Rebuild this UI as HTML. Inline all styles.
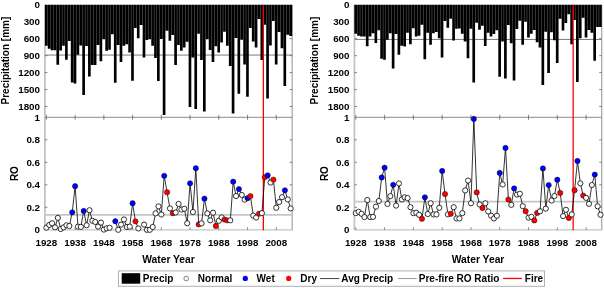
<!DOCTYPE html>
<html><head><meta charset="utf-8"><title>Precipitation and RO</title>
<style>
html,body{margin:0;padding:0;background:#fff;}
body{width:604px;height:288px;overflow:hidden;font-family:"Liberation Sans",sans-serif;}
svg{display:block;will-change:transform;}
</style></head>
<body>
<svg width="604" height="288" viewBox="0 0 604 288">
<rect width="604" height="288" fill="#fff"/>
<line x1="44.9" y1="55.05" x2="292.15" y2="55.05" stroke="#7a7a7a" stroke-width="1"/>
<line x1="44.9" y1="4.7" x2="44.9" y2="230.2" stroke="#c4c4c4" stroke-width="1.8"/>
<line x1="292.15" y1="4.7" x2="292.15" y2="230.2" stroke="#9a9a9a" stroke-width="1.1"/>
<line x1="44.9" y1="117.3" x2="292.15" y2="117.3" stroke="#8a8a8a" stroke-width="1"/>
<line x1="44.9" y1="229.8" x2="292.15" y2="229.8" stroke="#c4c4c4" stroke-width="1.2"/>
<path d="M46.37 114.8V119.8M46.37 229.8V227.3M75.11 114.8V119.8M75.11 229.8V227.3M103.85 114.8V119.8M103.85 229.8V227.3M132.59 114.8V119.8M132.59 229.8V227.3M161.33 114.8V119.8M161.33 229.8V227.3M190.07 114.8V119.8M190.07 229.8V227.3M218.81 114.8V119.8M218.81 229.8V227.3M247.55 114.8V119.8M247.55 229.8V227.3M276.29 114.8V119.8M276.29 229.8V227.3M44.9 21.75h2.5M292.15 21.75h-2.5M44.9 38.7h2.5M292.15 38.7h-2.5M44.9 55.65h2.5M292.15 55.65h-2.5M44.9 72.6h2.5M292.15 72.6h-2.5M44.9 89.55h2.5M292.15 89.55h-2.5M44.9 106.5h2.5M292.15 106.5h-2.5M44.9 207.3h2.5M292.15 207.3h-2.5M44.9 184.8h2.5M292.15 184.8h-2.5M44.9 162.3h2.5M292.15 162.3h-2.5M44.9 139.8h2.5M292.15 139.8h-2.5" stroke="#666" stroke-width="0.8" fill="none"/>
<path d="M44.93 4.7h2.67V45.8H44.93zM47.8 4.7h2.67V48.7H47.8zM50.68 4.7h2.67V50.3H50.68zM53.55 4.7h2.67V50.3H53.55zM56.43 4.7h2.67V64.7H56.43zM59.3 4.7h2.67V50.5H59.3zM62.17 4.7h2.67V45.8H62.17zM65.05 4.7h2.67V59.7H65.05zM67.92 4.7h2.67V41H67.92zM70.8 4.7h2.67V82.4H70.8zM73.67 4.7h2.67V83.6H73.67zM76.54 4.7h2.67V54.8H76.54zM79.42 4.7h2.67V45.4H79.42zM82.29 4.7h2.67V94.9H82.29zM85.17 4.7h2.67V46H85.17zM88.04 4.7h2.67V76.4H88.04zM90.91 4.7h2.67V64.9H90.91zM93.79 4.7h2.67V64.9H93.79zM96.66 4.7h2.67V45H96.66zM99.54 4.7h2.67V61.2H99.54zM102.41 4.7h2.67V39.2H102.41zM105.28 4.7h2.67V50.8H105.28zM108.16 4.7h2.67V49.7H108.16zM111.03 4.7h2.67V34.2H111.03zM113.91 4.7h2.67V82.7H113.91zM116.78 4.7h2.67V45H116.78zM119.65 4.7h2.67V62.1H119.65zM122.53 4.7h2.67V45.8H122.53zM125.4 4.7h2.67V44.2H125.4zM128.28 4.7h2.67V52.5H128.28zM131.15 4.7h2.67V80.7H131.15zM134.02 4.7h2.67V28H134.02zM136.9 4.7h2.67V38.3H136.9zM139.77 4.7h2.67V25H139.77zM142.65 4.7h2.67V57.5H142.65zM145.52 4.7h2.67V40H145.52zM148.39 4.7h2.67V39.3H148.39zM151.27 4.7h2.67V45.8H151.27zM154.14 4.7h2.67V58H154.14zM157.02 4.7h2.67V81.1H157.02zM159.89 4.7h2.67V39H159.89zM162.76 4.7h2.67V114.9H162.76zM165.64 4.7h2.67V30.7H165.64zM168.51 4.7h2.67V40.7H168.51zM171.39 4.7h2.67V35H171.39zM174.26 4.7h2.67V64.9H174.26zM177.13 4.7h2.67V45H177.13zM180.01 4.7h2.67V50.8H180.01zM182.88 4.7h2.67V47.5H182.88zM185.76 4.7h2.67V41.7H185.76zM188.63 4.7h2.67V107H188.63zM191.5 4.7h2.67V57.5H191.5zM194.38 4.7h2.67V108.9H194.38zM197.25 4.7h2.67V33.7H197.25zM200.13 4.7h2.67V60H200.13zM203 4.7h2.67V111.6H203zM205.87 4.7h2.67V39.2H205.87zM208.75 4.7h2.67V50H208.75zM211.62 4.7h2.67V62.1H211.62zM214.5 4.7h2.67V46.3H214.5zM217.37 4.7h2.67V52.5H217.37zM220.24 4.7h2.67V42.5H220.24zM223.12 4.7h2.67V31.7H223.12zM225.99 4.7h2.67V45.8H225.99zM228.87 4.7h2.67V66.1H228.87zM231.74 4.7h2.67V113.6H231.74zM234.61 4.7h2.67V38H234.61zM237.49 4.7h2.67V93.7H237.49zM240.36 4.7h2.67V39.7H240.36zM243.24 4.7h2.67V64.6H243.24zM246.11 4.7h2.67V96.7H246.11zM248.98 4.7h2.67V27.9H248.98zM251.86 4.7h2.67V41.4H251.86zM254.73 4.7h2.67V47.5H254.73zM257.61 4.7h2.67V19H257.61zM260.48 4.7h2.67V60H260.48zM263.35 4.7h2.67V24.8H263.35zM266.23 4.7h2.67V98.4H266.23zM269.1 4.7h2.67V45.5H269.1zM271.98 4.7h2.67V20.9H271.98zM274.85 4.7h2.67V64.6H274.85zM277.72 4.7h2.67V32H277.72zM280.6 4.7h2.67V48.3H280.6zM283.47 4.7h2.67V85.9H283.47zM286.35 4.7h2.67V34.7H286.35zM289.22 4.7h2.93V36H289.22z" fill="#000"/>
<line x1="44.9" y1="214.8" x2="292.15" y2="214.8" stroke="#c6c6c6" stroke-width="1.8"/>
<line x1="263.35" y1="4.7" x2="263.35" y2="230.2" stroke="#ff0000" stroke-width="1.3"/>
<path d="M46.37 227.66 L49.24 224.96 L52.12 223.28 L54.99 227.33 L57.86 217.88 L60.74 229.01 L63.61 227.33 L66.48 225.3 L69.36 225.98 L72.23 212.36 L75.11 186.15 L77.98 226.65 L80.86 226.88 L83.73 211.01 L86.6 225.3 L89.48 210.23 L92.35 220.8 L95.22 221.93 L98.1 226.65 L100.97 222.6 L103.85 229.58 L106.72 228.34 L109.59 227.78 M115.34 221.25 L118.22 229.8 L121.09 224.62 L123.97 219.45 L126.84 226.99 L129.71 226.65 L132.59 203.25 L135.46 221.36 L138.34 228.45 M144.08 224.62 L146.96 229.8 L149.83 229.8 L152.71 226.99 L155.58 213.38 L158.45 206.4 L161.33 214.5 L164.2 175.8 L167.08 192.22 L169.95 208.43 L172.82 213.26 L175.7 212.48 L178.57 203.93 L181.45 209.55 L184.32 208.76 L187.19 223.28 L190.07 183.34 L192.94 212.03 L195.82 168.26 L198.69 224.4 L201.56 223.39 L204.44 198.64 L207.31 213.38 L210.19 220.35 L213.06 212.7 L215.93 225.98 L218.81 220.8 L221.68 217.43 L224.56 219.56 L227.43 220.35 L230.3 220.35 L233.18 181.65 L236.05 196.05 L238.93 189.08 L241.8 194.93 L244.67 199.65 L247.55 198.19 L250.42 196.05 L253.3 215.62 L256.17 217.54 L259.04 213.71 L261.92 213.15 L264.79 177.26 L267.67 175.35 L270.54 182.55 L273.41 179.62 L276.29 207.75 L279.16 202.01 L282.04 197.18 L284.91 190.31 L287.78 199.43 L290.66 208.43" stroke="#000" stroke-width="0.8" fill="none"/>
<circle cx="46.37" cy="227.66" r="2.6" fill="#fff" stroke="#000" stroke-width="0.8"/>
<circle cx="49.24" cy="224.96" r="2.6" fill="#fff" stroke="#000" stroke-width="0.8"/>
<circle cx="52.12" cy="223.28" r="2.6" fill="#fff" stroke="#000" stroke-width="0.8"/>
<circle cx="54.99" cy="227.33" r="2.6" fill="#fff" stroke="#000" stroke-width="0.8"/>
<circle cx="57.86" cy="217.88" r="2.6" fill="#fff" stroke="#000" stroke-width="0.8"/>
<circle cx="60.74" cy="229.01" r="2.6" fill="#fff" stroke="#000" stroke-width="0.8"/>
<circle cx="63.61" cy="227.33" r="2.6" fill="#fff" stroke="#000" stroke-width="0.8"/>
<circle cx="66.48" cy="225.3" r="2.6" fill="#fff" stroke="#000" stroke-width="0.8"/>
<circle cx="69.36" cy="225.98" r="2.6" fill="#fff" stroke="#000" stroke-width="0.8"/>
<circle cx="72.23" cy="212.36" r="2.65" fill="#0000ff" stroke="#000" stroke-width="0.45"/>
<circle cx="75.11" cy="186.15" r="2.65" fill="#0000ff" stroke="#000" stroke-width="0.45"/>
<circle cx="77.98" cy="226.65" r="2.6" fill="#fff" stroke="#000" stroke-width="0.8"/>
<circle cx="80.86" cy="226.88" r="2.6" fill="#fff" stroke="#000" stroke-width="0.8"/>
<circle cx="83.73" cy="211.01" r="2.65" fill="#0000ff" stroke="#000" stroke-width="0.45"/>
<circle cx="86.6" cy="225.3" r="2.6" fill="#fff" stroke="#000" stroke-width="0.8"/>
<circle cx="89.48" cy="210.23" r="2.6" fill="#fff" stroke="#000" stroke-width="0.8"/>
<circle cx="92.35" cy="220.8" r="2.6" fill="#fff" stroke="#000" stroke-width="0.8"/>
<circle cx="95.22" cy="221.93" r="2.6" fill="#fff" stroke="#000" stroke-width="0.8"/>
<circle cx="98.1" cy="226.65" r="2.6" fill="#fff" stroke="#000" stroke-width="0.8"/>
<circle cx="100.97" cy="222.6" r="2.6" fill="#fff" stroke="#000" stroke-width="0.8"/>
<circle cx="103.85" cy="229.58" r="2.6" fill="#fff" stroke="#000" stroke-width="0.8"/>
<circle cx="106.72" cy="228.34" r="2.6" fill="#fff" stroke="#000" stroke-width="0.8"/>
<circle cx="109.59" cy="227.78" r="2.6" fill="#fff" stroke="#000" stroke-width="0.8"/>
<circle cx="115.34" cy="221.25" r="2.65" fill="#0000ff" stroke="#000" stroke-width="0.45"/>
<circle cx="118.22" cy="229.8" r="2.6" fill="#fff" stroke="#000" stroke-width="0.8"/>
<circle cx="121.09" cy="224.62" r="2.6" fill="#fff" stroke="#000" stroke-width="0.8"/>
<circle cx="123.97" cy="219.45" r="2.6" fill="#fff" stroke="#000" stroke-width="0.8"/>
<circle cx="126.84" cy="226.99" r="2.6" fill="#fff" stroke="#000" stroke-width="0.8"/>
<circle cx="129.71" cy="226.65" r="2.6" fill="#fff" stroke="#000" stroke-width="0.8"/>
<circle cx="132.59" cy="203.25" r="2.65" fill="#0000ff" stroke="#000" stroke-width="0.45"/>
<circle cx="135.46" cy="221.36" r="2.65" fill="#ff0000" stroke="#000" stroke-width="0.45"/>
<circle cx="138.34" cy="228.45" r="2.6" fill="#fff" stroke="#000" stroke-width="0.8"/>
<circle cx="144.08" cy="224.62" r="2.6" fill="#fff" stroke="#000" stroke-width="0.8"/>
<circle cx="146.96" cy="229.8" r="2.6" fill="#fff" stroke="#000" stroke-width="0.8"/>
<circle cx="149.83" cy="229.8" r="2.6" fill="#fff" stroke="#000" stroke-width="0.8"/>
<circle cx="152.71" cy="226.99" r="2.6" fill="#fff" stroke="#000" stroke-width="0.8"/>
<circle cx="155.58" cy="213.38" r="2.6" fill="#fff" stroke="#000" stroke-width="0.8"/>
<circle cx="158.45" cy="206.4" r="2.6" fill="#fff" stroke="#000" stroke-width="0.8"/>
<circle cx="161.33" cy="214.5" r="2.6" fill="#fff" stroke="#000" stroke-width="0.8"/>
<circle cx="164.2" cy="175.8" r="2.65" fill="#0000ff" stroke="#000" stroke-width="0.45"/>
<circle cx="167.08" cy="192.22" r="2.65" fill="#ff0000" stroke="#000" stroke-width="0.45"/>
<circle cx="169.95" cy="208.43" r="2.6" fill="#fff" stroke="#000" stroke-width="0.8"/>
<circle cx="172.82" cy="213.26" r="2.65" fill="#ff0000" stroke="#000" stroke-width="0.45"/>
<circle cx="175.7" cy="212.48" r="2.6" fill="#fff" stroke="#000" stroke-width="0.8"/>
<circle cx="178.57" cy="203.93" r="2.6" fill="#fff" stroke="#000" stroke-width="0.8"/>
<circle cx="181.45" cy="209.55" r="2.6" fill="#fff" stroke="#000" stroke-width="0.8"/>
<circle cx="184.32" cy="208.76" r="2.6" fill="#fff" stroke="#000" stroke-width="0.8"/>
<circle cx="187.19" cy="223.28" r="2.6" fill="#fff" stroke="#000" stroke-width="0.8"/>
<circle cx="190.07" cy="183.34" r="2.65" fill="#0000ff" stroke="#000" stroke-width="0.45"/>
<circle cx="192.94" cy="212.03" r="2.6" fill="#fff" stroke="#000" stroke-width="0.8"/>
<circle cx="195.82" cy="168.26" r="2.65" fill="#0000ff" stroke="#000" stroke-width="0.45"/>
<circle cx="198.69" cy="224.4" r="2.65" fill="#ff0000" stroke="#000" stroke-width="0.45"/>
<circle cx="201.56" cy="223.39" r="2.6" fill="#fff" stroke="#000" stroke-width="0.8"/>
<circle cx="204.44" cy="198.64" r="2.65" fill="#0000ff" stroke="#000" stroke-width="0.45"/>
<circle cx="207.31" cy="213.38" r="2.6" fill="#fff" stroke="#000" stroke-width="0.8"/>
<circle cx="210.19" cy="220.35" r="2.6" fill="#fff" stroke="#000" stroke-width="0.8"/>
<circle cx="213.06" cy="212.7" r="2.6" fill="#fff" stroke="#000" stroke-width="0.8"/>
<circle cx="215.93" cy="225.98" r="2.65" fill="#ff0000" stroke="#000" stroke-width="0.45"/>
<circle cx="218.81" cy="220.8" r="2.6" fill="#fff" stroke="#000" stroke-width="0.8"/>
<circle cx="221.68" cy="217.43" r="2.6" fill="#fff" stroke="#000" stroke-width="0.8"/>
<circle cx="224.56" cy="219.56" r="2.65" fill="#ff0000" stroke="#000" stroke-width="0.45"/>
<circle cx="227.43" cy="220.35" r="2.65" fill="#ff0000" stroke="#000" stroke-width="0.45"/>
<circle cx="230.3" cy="220.35" r="2.6" fill="#fff" stroke="#000" stroke-width="0.8"/>
<circle cx="233.18" cy="181.65" r="2.65" fill="#0000ff" stroke="#000" stroke-width="0.45"/>
<circle cx="236.05" cy="196.05" r="2.6" fill="#fff" stroke="#000" stroke-width="0.8"/>
<circle cx="238.93" cy="189.08" r="2.65" fill="#0000ff" stroke="#000" stroke-width="0.45"/>
<circle cx="241.8" cy="194.93" r="2.6" fill="#fff" stroke="#000" stroke-width="0.8"/>
<circle cx="244.67" cy="199.65" r="2.6" fill="#fff" stroke="#000" stroke-width="0.8"/>
<circle cx="247.55" cy="198.19" r="2.65" fill="#0000ff" stroke="#000" stroke-width="0.45"/>
<circle cx="250.42" cy="196.05" r="2.65" fill="#ff0000" stroke="#000" stroke-width="0.45"/>
<circle cx="253.3" cy="215.62" r="2.6" fill="#fff" stroke="#000" stroke-width="0.8"/>
<circle cx="256.17" cy="217.54" r="2.6" fill="#fff" stroke="#000" stroke-width="0.8"/>
<circle cx="259.04" cy="213.71" r="2.65" fill="#ff0000" stroke="#000" stroke-width="0.45"/>
<circle cx="261.92" cy="213.15" r="2.6" fill="#fff" stroke="#000" stroke-width="0.8"/>
<circle cx="264.79" cy="177.26" r="2.65" fill="#ff0000" stroke="#000" stroke-width="0.45"/>
<circle cx="267.67" cy="175.35" r="2.65" fill="#0000ff" stroke="#000" stroke-width="0.45"/>
<circle cx="270.54" cy="182.55" r="2.6" fill="#fff" stroke="#000" stroke-width="0.8"/>
<circle cx="273.41" cy="179.62" r="2.65" fill="#ff0000" stroke="#000" stroke-width="0.45"/>
<circle cx="276.29" cy="207.75" r="2.6" fill="#fff" stroke="#000" stroke-width="0.8"/>
<circle cx="279.16" cy="202.01" r="2.6" fill="#fff" stroke="#000" stroke-width="0.8"/>
<circle cx="282.04" cy="197.18" r="2.6" fill="#fff" stroke="#000" stroke-width="0.8"/>
<circle cx="284.91" cy="190.31" r="2.65" fill="#0000ff" stroke="#000" stroke-width="0.45"/>
<circle cx="287.78" cy="199.43" r="2.6" fill="#fff" stroke="#000" stroke-width="0.8"/>
<circle cx="290.66" cy="208.43" r="2.6" fill="#fff" stroke="#000" stroke-width="0.8"/>
<text x="40" y="8.2" text-anchor="end" font-family="Liberation Sans, sans-serif" font-weight="bold" font-size="9.8">0</text>
<text x="40" y="25.15" text-anchor="end" font-family="Liberation Sans, sans-serif" font-weight="bold" font-size="9.8">300</text>
<text x="40" y="42.1" text-anchor="end" font-family="Liberation Sans, sans-serif" font-weight="bold" font-size="9.8">600</text>
<text x="40" y="59.05" text-anchor="end" font-family="Liberation Sans, sans-serif" font-weight="bold" font-size="9.8">900</text>
<text x="40" y="76" text-anchor="end" font-family="Liberation Sans, sans-serif" font-weight="bold" font-size="9.8">1200</text>
<text x="40" y="92.95" text-anchor="end" font-family="Liberation Sans, sans-serif" font-weight="bold" font-size="9.8">1500</text>
<text x="40" y="109.9" text-anchor="end" font-family="Liberation Sans, sans-serif" font-weight="bold" font-size="9.8">1800</text>
<text x="40" y="233.2" text-anchor="end" font-family="Liberation Sans, sans-serif" font-weight="bold" font-size="9.8">0</text>
<text x="40" y="210.7" text-anchor="end" font-family="Liberation Sans, sans-serif" font-weight="bold" font-size="9.8">0.2</text>
<text x="40" y="188.2" text-anchor="end" font-family="Liberation Sans, sans-serif" font-weight="bold" font-size="9.8">0.4</text>
<text x="40" y="165.7" text-anchor="end" font-family="Liberation Sans, sans-serif" font-weight="bold" font-size="9.8">0.6</text>
<text x="40" y="143.2" text-anchor="end" font-family="Liberation Sans, sans-serif" font-weight="bold" font-size="9.8">0.8</text>
<text x="40" y="120.7" text-anchor="end" font-family="Liberation Sans, sans-serif" font-weight="bold" font-size="9.8">1</text>
<text x="46.37" y="246.3" text-anchor="middle" font-family="Liberation Sans, sans-serif" font-weight="bold" font-size="9.8">1928</text>
<text x="75.11" y="246.3" text-anchor="middle" font-family="Liberation Sans, sans-serif" font-weight="bold" font-size="9.8">1938</text>
<text x="103.85" y="246.3" text-anchor="middle" font-family="Liberation Sans, sans-serif" font-weight="bold" font-size="9.8">1948</text>
<text x="132.59" y="246.3" text-anchor="middle" font-family="Liberation Sans, sans-serif" font-weight="bold" font-size="9.8">1958</text>
<text x="161.33" y="246.3" text-anchor="middle" font-family="Liberation Sans, sans-serif" font-weight="bold" font-size="9.8">1968</text>
<text x="190.07" y="246.3" text-anchor="middle" font-family="Liberation Sans, sans-serif" font-weight="bold" font-size="9.8">1978</text>
<text x="218.81" y="246.3" text-anchor="middle" font-family="Liberation Sans, sans-serif" font-weight="bold" font-size="9.8">1988</text>
<text x="247.55" y="246.3" text-anchor="middle" font-family="Liberation Sans, sans-serif" font-weight="bold" font-size="9.8">1998</text>
<text x="276.29" y="246.3" text-anchor="middle" font-family="Liberation Sans, sans-serif" font-weight="bold" font-size="9.8">2008</text>
<text x="168.52" y="262.5" text-anchor="middle" font-family="Liberation Sans, sans-serif" font-weight="bold" font-size="10.3">Water Year</text>
<text transform="translate(8.6 60.6) rotate(-90)" text-anchor="middle" font-family="Liberation Sans, sans-serif" font-weight="bold" font-size="10">Precipitation [mm]</text>
<text transform="translate(18.2 173.6) rotate(-90)" text-anchor="middle" font-family="Liberation Sans, sans-serif" font-weight="bold" font-size="10">RO</text>
<line x1="354.4" y1="39.45" x2="601.75" y2="39.45" stroke="#7a7a7a" stroke-width="1"/>
<line x1="354.4" y1="4.7" x2="354.4" y2="230.2" stroke="#c4c4c4" stroke-width="1.8"/>
<line x1="601.75" y1="4.7" x2="601.75" y2="230.2" stroke="#9a9a9a" stroke-width="1.1"/>
<line x1="354.4" y1="117.3" x2="601.75" y2="117.3" stroke="#8a8a8a" stroke-width="1"/>
<line x1="354.4" y1="229.8" x2="601.75" y2="229.8" stroke="#c4c4c4" stroke-width="1.2"/>
<path d="M355.79 114.8V119.8M355.79 229.8V227.3M384.58 114.8V119.8M384.58 229.8V227.3M413.37 114.8V119.8M413.37 229.8V227.3M442.16 114.8V119.8M442.16 229.8V227.3M470.95 114.8V119.8M470.95 229.8V227.3M499.74 114.8V119.8M499.74 229.8V227.3M528.53 114.8V119.8M528.53 229.8V227.3M557.32 114.8V119.8M557.32 229.8V227.3M586.11 114.8V119.8M586.11 229.8V227.3M354.4 21.75h2.5M601.75 21.75h-2.5M354.4 38.7h2.5M601.75 38.7h-2.5M354.4 55.65h2.5M601.75 55.65h-2.5M354.4 72.6h2.5M601.75 72.6h-2.5M354.4 89.55h2.5M601.75 89.55h-2.5M354.4 106.5h2.5M601.75 106.5h-2.5M354.4 207.3h2.5M601.75 207.3h-2.5M354.4 184.8h2.5M601.75 184.8h-2.5M354.4 162.3h2.5M601.75 162.3h-2.5M354.4 139.8h2.5M601.75 139.8h-2.5" stroke="#666" stroke-width="0.8" fill="none"/>
<path d="M354.35 4.7h2.68V33.7H354.35zM357.23 4.7h2.68V35.7H357.23zM360.11 4.7h2.68V36.5H360.11zM362.99 4.7h2.68V36.5H362.99zM365.87 4.7h2.68V46.3H365.87zM368.75 4.7h2.68V36.5H368.75zM371.62 4.7h2.68V33.2H371.62zM374.5 4.7h2.68V43H374.5zM377.38 4.7h2.68V30.2H377.38zM380.26 4.7h2.68V58.7H380.26zM383.14 4.7h2.68V59.7H383.14zM386.02 4.7h2.68V39.8H386.02zM388.9 4.7h2.68V33.2H388.9zM391.78 4.7h2.68V68.4H391.78zM394.66 4.7h2.68V34H394.66zM397.54 4.7h2.68V54.7H397.54zM400.41 4.7h2.68V45.8H400.41zM403.29 4.7h2.68V46.5H403.29zM406.17 4.7h2.68V32.8H406.17zM409.05 4.7h2.68V44.2H409.05zM411.93 4.7h2.68V28.2H411.93zM414.81 4.7h2.68V36.5H414.81zM417.69 4.7h2.68V35.7H417.69zM420.57 4.7h2.68V24.8H420.57zM423.45 4.7h2.68V59.2H423.45zM426.33 4.7h2.68V32.8H426.33zM429.2 4.7h2.68V44.7H429.2zM432.08 4.7h2.68V33.2H432.08zM434.96 4.7h2.68V32H434.96zM437.84 4.7h2.68V38.2H437.84zM440.72 4.7h2.68V57.5H440.72zM443.6 4.7h2.68V21H443.6zM446.48 4.7h2.68V27.7H446.48zM449.36 4.7h2.68V18.7H449.36zM452.24 4.7h2.68V40.5H452.24zM455.12 4.7h2.68V28.7H455.12zM457.99 4.7h2.68V28.5H457.99zM460.87 4.7h2.68V33.7H460.87zM463.75 4.7h2.68V41.5H463.75zM466.63 4.7h2.68V58.3H466.63zM469.51 4.7h2.68V28.7H469.51zM472.39 4.7h2.68V82.4H472.39zM475.27 4.7h2.68V22.7H475.27zM478.15 4.7h2.68V29.8H478.15zM481.03 4.7h2.68V25.7H481.03zM483.91 4.7h2.68V46H483.91zM486.78 4.7h2.68V32.7H486.78zM489.66 4.7h2.68V36.5H489.66zM492.54 4.7h2.68V34H492.54zM495.42 4.7h2.68V30.3H495.42zM498.3 4.7h2.68V76.7H498.3zM501.18 4.7h2.68V41.5H501.18zM504.06 4.7h2.68V78.4H504.06zM506.94 4.7h2.68V24.9H506.94zM509.82 4.7h2.68V43.3H509.82zM512.7 4.7h2.68V80.4H512.7zM515.57 4.7h2.68V29H515.57zM518.45 4.7h2.68V20.8H518.45zM521.33 4.7h2.68V44.7H521.33zM524.21 4.7h2.68V21.8H524.21zM527.09 4.7h2.68V37.5H527.09zM529.97 4.7h2.68V33.8H529.97zM532.85 4.7h2.68V30H532.85zM535.73 4.7h2.68V42.3H535.73zM538.61 4.7h2.68V47.5H538.61zM541.49 4.7h2.68V85.1H541.49zM544.36 4.7h2.68V31.7H544.36zM547.24 4.7h2.68V72.9H547.24zM550.12 4.7h2.68V32.2H550.12zM553 4.7h2.68V40.3H553zM555.88 4.7h2.68V62.9H555.88zM558.76 4.7h2.68V18.8H558.76zM561.64 4.7h2.68V30.5H561.64zM564.52 4.7h2.68V23H564.52zM567.4 4.7h2.68V14.2H567.4zM570.28 4.7h2.68V44.2H570.28zM573.15 4.7h2.68V19.9H573.15zM576.03 4.7h2.68V82.1H576.03zM578.91 4.7h2.68V38.3H578.91zM581.79 4.7h2.68V17.8H581.79zM584.67 4.7h2.68V37.6H584.67zM587.55 4.7h2.68V30H587.55zM590.43 4.7h2.68V32.7H590.43zM593.31 4.7h2.68V60.7H593.31zM596.19 4.7h2.68V27H596.19zM599.07 4.7h2.68V27H599.07z" fill="#000"/>
<line x1="354.4" y1="201.7" x2="601.75" y2="201.7" stroke="#c6c6c6" stroke-width="1.8"/>
<line x1="573.15" y1="4.7" x2="573.15" y2="230.2" stroke="#ff0000" stroke-width="1.3"/>
<path d="M355.79 213.15 L358.67 211.8 L361.55 213.83 L364.43 217.09 L367.31 199.99 L370.18 217.09 L373.06 216.86 L375.94 206.62 L378.82 201 L381.7 177.49 L384.58 167.7 L387.46 203.93 L390.34 196.16 L393.22 184.8 L396.1 205.61 L398.97 183.45 L401.85 199.43 L404.73 197.29 L407.61 198.08 L410.49 207.19 L413.37 213.15 L416.25 212.7 L419.13 214.84 L422.01 218.78 L424.89 197.29 L427.76 214.05 L430.64 203.25 L433.52 214.39 L436.4 214.39 L439.28 207.75 L442.16 170.96 L445.04 194.03 L447.92 214.39 L450.8 213.83 L453.68 207.19 L456.55 218.44 L459.43 218.44 L462.31 213.15 L465.19 190.43 L468.07 180.53 L470.95 203.25 L473.83 118.88 L476.71 192.45 L479.59 204.49 L482.47 207.98 L485.34 203.25 L488.22 211.46 L491.1 215.62 L493.98 218.44 L496.86 215.74 L499.74 172.88 L502.62 184.46 L505.5 147.9 L508.38 199.54 L511.26 204.83 L514.13 188.4 L517.01 194.59 L519.89 193.8 L522.77 206.18 L525.65 211.24 L528.53 217.65 L531.41 216.86 L534.29 220.46 L537.17 212.93 L540.05 211.24 L542.92 168.38 L545.8 208.65 L548.68 185.03 L551.56 200.55 L554.44 196.05 L557.32 179.74 L560.2 192.9 L563.08 216.08 L565.96 209.78 L568.84 217.99 L571.71 214.39 L574.59 190.2 L577.47 160.95 L580.35 183.34 L583.23 195.6 L586.11 197.85 L588.99 203.81 L591.87 185.03 L594.75 174.56 L597.63 206.29 L600.5 214.73" stroke="#000" stroke-width="0.8" fill="none"/>
<circle cx="355.79" cy="213.15" r="2.6" fill="#fff" stroke="#000" stroke-width="0.8"/>
<circle cx="358.67" cy="211.8" r="2.6" fill="#fff" stroke="#000" stroke-width="0.8"/>
<circle cx="361.55" cy="213.83" r="2.6" fill="#fff" stroke="#000" stroke-width="0.8"/>
<circle cx="364.43" cy="217.09" r="2.6" fill="#fff" stroke="#000" stroke-width="0.8"/>
<circle cx="367.31" cy="199.99" r="2.6" fill="#fff" stroke="#000" stroke-width="0.8"/>
<circle cx="370.18" cy="217.09" r="2.6" fill="#fff" stroke="#000" stroke-width="0.8"/>
<circle cx="373.06" cy="216.86" r="2.6" fill="#fff" stroke="#000" stroke-width="0.8"/>
<circle cx="375.94" cy="206.62" r="2.6" fill="#fff" stroke="#000" stroke-width="0.8"/>
<circle cx="378.82" cy="201" r="2.6" fill="#fff" stroke="#000" stroke-width="0.8"/>
<circle cx="381.7" cy="177.49" r="2.65" fill="#0000ff" stroke="#000" stroke-width="0.45"/>
<circle cx="384.58" cy="167.7" r="2.65" fill="#0000ff" stroke="#000" stroke-width="0.45"/>
<circle cx="387.46" cy="203.93" r="2.6" fill="#fff" stroke="#000" stroke-width="0.8"/>
<circle cx="390.34" cy="196.16" r="2.6" fill="#fff" stroke="#000" stroke-width="0.8"/>
<circle cx="393.22" cy="184.8" r="2.65" fill="#0000ff" stroke="#000" stroke-width="0.45"/>
<circle cx="396.1" cy="205.61" r="2.6" fill="#fff" stroke="#000" stroke-width="0.8"/>
<circle cx="398.97" cy="183.45" r="2.6" fill="#fff" stroke="#000" stroke-width="0.8"/>
<circle cx="401.85" cy="199.43" r="2.6" fill="#fff" stroke="#000" stroke-width="0.8"/>
<circle cx="404.73" cy="197.29" r="2.6" fill="#fff" stroke="#000" stroke-width="0.8"/>
<circle cx="407.61" cy="198.08" r="2.6" fill="#fff" stroke="#000" stroke-width="0.8"/>
<circle cx="410.49" cy="207.19" r="2.6" fill="#fff" stroke="#000" stroke-width="0.8"/>
<circle cx="413.37" cy="213.15" r="2.6" fill="#fff" stroke="#000" stroke-width="0.8"/>
<circle cx="416.25" cy="212.7" r="2.6" fill="#fff" stroke="#000" stroke-width="0.8"/>
<circle cx="419.13" cy="214.84" r="2.6" fill="#fff" stroke="#000" stroke-width="0.8"/>
<circle cx="422.01" cy="218.78" r="2.65" fill="#ff0000" stroke="#000" stroke-width="0.45"/>
<circle cx="424.89" cy="197.29" r="2.65" fill="#0000ff" stroke="#000" stroke-width="0.45"/>
<circle cx="427.76" cy="214.05" r="2.6" fill="#fff" stroke="#000" stroke-width="0.8"/>
<circle cx="430.64" cy="203.25" r="2.6" fill="#fff" stroke="#000" stroke-width="0.8"/>
<circle cx="433.52" cy="214.39" r="2.6" fill="#fff" stroke="#000" stroke-width="0.8"/>
<circle cx="436.4" cy="214.39" r="2.6" fill="#fff" stroke="#000" stroke-width="0.8"/>
<circle cx="439.28" cy="207.75" r="2.6" fill="#fff" stroke="#000" stroke-width="0.8"/>
<circle cx="442.16" cy="170.96" r="2.65" fill="#0000ff" stroke="#000" stroke-width="0.45"/>
<circle cx="445.04" cy="194.03" r="2.65" fill="#ff0000" stroke="#000" stroke-width="0.45"/>
<circle cx="447.92" cy="214.39" r="2.6" fill="#fff" stroke="#000" stroke-width="0.8"/>
<circle cx="450.8" cy="213.83" r="2.65" fill="#ff0000" stroke="#000" stroke-width="0.45"/>
<circle cx="453.68" cy="207.19" r="2.6" fill="#fff" stroke="#000" stroke-width="0.8"/>
<circle cx="456.55" cy="218.44" r="2.6" fill="#fff" stroke="#000" stroke-width="0.8"/>
<circle cx="459.43" cy="218.44" r="2.6" fill="#fff" stroke="#000" stroke-width="0.8"/>
<circle cx="462.31" cy="213.15" r="2.6" fill="#fff" stroke="#000" stroke-width="0.8"/>
<circle cx="465.19" cy="190.43" r="2.6" fill="#fff" stroke="#000" stroke-width="0.8"/>
<circle cx="468.07" cy="180.53" r="2.6" fill="#fff" stroke="#000" stroke-width="0.8"/>
<circle cx="470.95" cy="203.25" r="2.6" fill="#fff" stroke="#000" stroke-width="0.8"/>
<circle cx="473.83" cy="118.88" r="2.65" fill="#0000ff" stroke="#000" stroke-width="0.45"/>
<circle cx="476.71" cy="192.45" r="2.65" fill="#ff0000" stroke="#000" stroke-width="0.45"/>
<circle cx="479.59" cy="204.49" r="2.6" fill="#fff" stroke="#000" stroke-width="0.8"/>
<circle cx="482.47" cy="207.98" r="2.65" fill="#ff0000" stroke="#000" stroke-width="0.45"/>
<circle cx="485.34" cy="203.25" r="2.6" fill="#fff" stroke="#000" stroke-width="0.8"/>
<circle cx="488.22" cy="211.46" r="2.6" fill="#fff" stroke="#000" stroke-width="0.8"/>
<circle cx="491.1" cy="215.62" r="2.6" fill="#fff" stroke="#000" stroke-width="0.8"/>
<circle cx="493.98" cy="218.44" r="2.6" fill="#fff" stroke="#000" stroke-width="0.8"/>
<circle cx="496.86" cy="215.74" r="2.6" fill="#fff" stroke="#000" stroke-width="0.8"/>
<circle cx="499.74" cy="172.88" r="2.65" fill="#0000ff" stroke="#000" stroke-width="0.45"/>
<circle cx="502.62" cy="184.46" r="2.6" fill="#fff" stroke="#000" stroke-width="0.8"/>
<circle cx="505.5" cy="147.9" r="2.65" fill="#0000ff" stroke="#000" stroke-width="0.45"/>
<circle cx="508.38" cy="199.54" r="2.65" fill="#ff0000" stroke="#000" stroke-width="0.45"/>
<circle cx="511.26" cy="204.83" r="2.6" fill="#fff" stroke="#000" stroke-width="0.8"/>
<circle cx="514.13" cy="188.4" r="2.65" fill="#0000ff" stroke="#000" stroke-width="0.45"/>
<circle cx="517.01" cy="194.59" r="2.6" fill="#fff" stroke="#000" stroke-width="0.8"/>
<circle cx="519.89" cy="193.8" r="2.6" fill="#fff" stroke="#000" stroke-width="0.8"/>
<circle cx="522.77" cy="206.18" r="2.6" fill="#fff" stroke="#000" stroke-width="0.8"/>
<circle cx="525.65" cy="211.24" r="2.65" fill="#ff0000" stroke="#000" stroke-width="0.45"/>
<circle cx="528.53" cy="217.65" r="2.6" fill="#fff" stroke="#000" stroke-width="0.8"/>
<circle cx="531.41" cy="216.86" r="2.6" fill="#fff" stroke="#000" stroke-width="0.8"/>
<circle cx="534.29" cy="220.46" r="2.65" fill="#ff0000" stroke="#000" stroke-width="0.45"/>
<circle cx="537.17" cy="212.93" r="2.65" fill="#ff0000" stroke="#000" stroke-width="0.45"/>
<circle cx="540.05" cy="211.24" r="2.6" fill="#fff" stroke="#000" stroke-width="0.8"/>
<circle cx="542.92" cy="168.38" r="2.65" fill="#0000ff" stroke="#000" stroke-width="0.45"/>
<circle cx="545.8" cy="208.65" r="2.6" fill="#fff" stroke="#000" stroke-width="0.8"/>
<circle cx="548.68" cy="185.03" r="2.65" fill="#0000ff" stroke="#000" stroke-width="0.45"/>
<circle cx="551.56" cy="200.55" r="2.6" fill="#fff" stroke="#000" stroke-width="0.8"/>
<circle cx="554.44" cy="196.05" r="2.6" fill="#fff" stroke="#000" stroke-width="0.8"/>
<circle cx="557.32" cy="179.74" r="2.65" fill="#0000ff" stroke="#000" stroke-width="0.45"/>
<circle cx="560.2" cy="192.9" r="2.65" fill="#ff0000" stroke="#000" stroke-width="0.45"/>
<circle cx="563.08" cy="216.08" r="2.6" fill="#fff" stroke="#000" stroke-width="0.8"/>
<circle cx="565.96" cy="209.78" r="2.6" fill="#fff" stroke="#000" stroke-width="0.8"/>
<circle cx="568.84" cy="217.99" r="2.65" fill="#ff0000" stroke="#000" stroke-width="0.45"/>
<circle cx="571.71" cy="214.39" r="2.6" fill="#fff" stroke="#000" stroke-width="0.8"/>
<circle cx="574.59" cy="190.2" r="2.65" fill="#ff0000" stroke="#000" stroke-width="0.45"/>
<circle cx="577.47" cy="160.95" r="2.65" fill="#0000ff" stroke="#000" stroke-width="0.45"/>
<circle cx="580.35" cy="183.34" r="2.6" fill="#fff" stroke="#000" stroke-width="0.8"/>
<circle cx="583.23" cy="195.6" r="2.65" fill="#ff0000" stroke="#000" stroke-width="0.45"/>
<circle cx="586.11" cy="197.85" r="2.6" fill="#fff" stroke="#000" stroke-width="0.8"/>
<circle cx="588.99" cy="203.81" r="2.6" fill="#fff" stroke="#000" stroke-width="0.8"/>
<circle cx="591.87" cy="185.03" r="2.6" fill="#fff" stroke="#000" stroke-width="0.8"/>
<circle cx="594.75" cy="174.56" r="2.65" fill="#0000ff" stroke="#000" stroke-width="0.45"/>
<circle cx="597.63" cy="206.29" r="2.6" fill="#fff" stroke="#000" stroke-width="0.8"/>
<circle cx="600.5" cy="214.73" r="2.6" fill="#fff" stroke="#000" stroke-width="0.8"/>
<text x="349.5" y="8.2" text-anchor="end" font-family="Liberation Sans, sans-serif" font-weight="bold" font-size="9.8">0</text>
<text x="349.5" y="25.15" text-anchor="end" font-family="Liberation Sans, sans-serif" font-weight="bold" font-size="9.8">300</text>
<text x="349.5" y="42.1" text-anchor="end" font-family="Liberation Sans, sans-serif" font-weight="bold" font-size="9.8">600</text>
<text x="349.5" y="59.05" text-anchor="end" font-family="Liberation Sans, sans-serif" font-weight="bold" font-size="9.8">900</text>
<text x="349.5" y="76" text-anchor="end" font-family="Liberation Sans, sans-serif" font-weight="bold" font-size="9.8">1200</text>
<text x="349.5" y="92.95" text-anchor="end" font-family="Liberation Sans, sans-serif" font-weight="bold" font-size="9.8">1500</text>
<text x="349.5" y="109.9" text-anchor="end" font-family="Liberation Sans, sans-serif" font-weight="bold" font-size="9.8">1800</text>
<text x="349.5" y="233.2" text-anchor="end" font-family="Liberation Sans, sans-serif" font-weight="bold" font-size="9.8">0</text>
<text x="349.5" y="210.7" text-anchor="end" font-family="Liberation Sans, sans-serif" font-weight="bold" font-size="9.8">0.2</text>
<text x="349.5" y="188.2" text-anchor="end" font-family="Liberation Sans, sans-serif" font-weight="bold" font-size="9.8">0.4</text>
<text x="349.5" y="165.7" text-anchor="end" font-family="Liberation Sans, sans-serif" font-weight="bold" font-size="9.8">0.6</text>
<text x="349.5" y="143.2" text-anchor="end" font-family="Liberation Sans, sans-serif" font-weight="bold" font-size="9.8">0.8</text>
<text x="349.5" y="120.7" text-anchor="end" font-family="Liberation Sans, sans-serif" font-weight="bold" font-size="9.8">1</text>
<text x="355.79" y="246.3" text-anchor="middle" font-family="Liberation Sans, sans-serif" font-weight="bold" font-size="9.8">1928</text>
<text x="384.58" y="246.3" text-anchor="middle" font-family="Liberation Sans, sans-serif" font-weight="bold" font-size="9.8">1938</text>
<text x="413.37" y="246.3" text-anchor="middle" font-family="Liberation Sans, sans-serif" font-weight="bold" font-size="9.8">1948</text>
<text x="442.16" y="246.3" text-anchor="middle" font-family="Liberation Sans, sans-serif" font-weight="bold" font-size="9.8">1958</text>
<text x="470.95" y="246.3" text-anchor="middle" font-family="Liberation Sans, sans-serif" font-weight="bold" font-size="9.8">1968</text>
<text x="499.74" y="246.3" text-anchor="middle" font-family="Liberation Sans, sans-serif" font-weight="bold" font-size="9.8">1978</text>
<text x="528.53" y="246.3" text-anchor="middle" font-family="Liberation Sans, sans-serif" font-weight="bold" font-size="9.8">1988</text>
<text x="557.32" y="246.3" text-anchor="middle" font-family="Liberation Sans, sans-serif" font-weight="bold" font-size="9.8">1998</text>
<text x="586.11" y="246.3" text-anchor="middle" font-family="Liberation Sans, sans-serif" font-weight="bold" font-size="9.8">2008</text>
<text x="478.07" y="262.5" text-anchor="middle" font-family="Liberation Sans, sans-serif" font-weight="bold" font-size="10.3">Water Year</text>
<text transform="translate(318.1 60.6) rotate(-90)" text-anchor="middle" font-family="Liberation Sans, sans-serif" font-weight="bold" font-size="10">Precipitation [mm]</text>
<text transform="translate(327.7 173.6) rotate(-90)" text-anchor="middle" font-family="Liberation Sans, sans-serif" font-weight="bold" font-size="10">RO</text>
<rect x="118.5" y="270.9" width="426" height="15.4" fill="#fff" stroke="#b0b0b0" stroke-width="1"/>
<rect x="121.7" y="273.2" width="18.5" height="10.5" fill="#000"/>
<text x="142.8" y="282.4" font-family="Liberation Sans, sans-serif" font-weight="bold" font-size="10">Precip</text>
<circle cx="186.2" cy="278.55" r="2.3" fill="#fff" stroke="#555" stroke-width="0.75"/>
<text x="197.8" y="282.4" font-family="Liberation Sans, sans-serif" font-weight="bold" font-size="10">Normal</text>
<circle cx="245.3" cy="278.45" r="2.6" fill="#0000ff"/>
<text x="256.6" y="282.4" font-family="Liberation Sans, sans-serif" font-weight="bold" font-size="10">Wet</text>
<circle cx="288.7" cy="278.45" r="2.6" fill="#ff0000"/>
<text x="300.3" y="282.4" font-family="Liberation Sans, sans-serif" font-weight="bold" font-size="10">Dry</text>
<line x1="320.1" y1="278.55" x2="339.2" y2="278.55" stroke="#444" stroke-width="1"/>
<text x="341.3" y="282.4" font-family="Liberation Sans, sans-serif" font-weight="bold" font-size="10">Avg Precip</text>
<line x1="397.9" y1="278.55" x2="416.7" y2="278.55" stroke="#999" stroke-width="1"/>
<text x="418.8" y="282.4" font-family="Liberation Sans, sans-serif" font-weight="bold" font-size="10">Pre-fire RO Ratio</text>
<line x1="503.1" y1="278.45" x2="521.9" y2="278.45" stroke="#ff0000" stroke-width="1.3"/>
<text x="524.8" y="282.4" font-family="Liberation Sans, sans-serif" font-weight="bold" font-size="10">Fire</text>
</svg>
</body></html>
